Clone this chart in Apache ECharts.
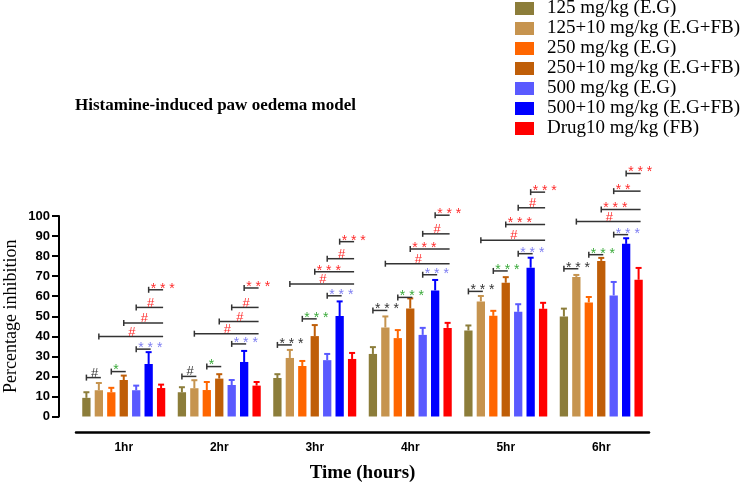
<!DOCTYPE html>
<html>
<head>
<meta charset="utf-8">
<script src="https://cdn.jsdelivr.net/npm/echarts@6/dist/echarts.min.js"></script>
<style>
html,body{margin:0;padding:0;background:#fff;}
#chart{width:749px;height:484px;}
</style>
</head>
<body>
<div id="chart"></div>
<script>
// ---------- DATA ----------
const categories = ['1hr', '2hr', '3hr', '4hr', '5hr', '6hr'];
const seriesNames = [
  '125 mg/kg (E.G)',
  '125+10 mg/kg (E.G+FB)',
  '250 mg/kg (E.G)',
  '250+10 mg/kg (E.G+FB)',
  '500 mg/kg (E.G)',
  '500+10 mg/kg (E.G+FB)',
  'Drug10 mg/kg (FB)'
];
const mean125 = [9.3, 12.1, 19.2, 31.2, 42.9, 49.9];
const err125 = [2.8, 2.5, 1.9, 3.4, 2.5, 3.9];
const mean125FB = [13.1, 14.1, 29.2, 44.4, 57.4, 69.6];
const err125FB = [3.6, 4.0, 4.0, 5.5, 2.7, 1.0];
const mean250 = [12.1, 13.2, 25.2, 39.1, 50.2, 56.9];
const err250 = [2.2, 4.0, 2.5, 4.0, 2.5, 2.7];
const mean250FB = [18.2, 18.9, 40.1, 53.9, 66.7, 77.6];
const err250FB = [2.2, 2.2, 5.5, 5.0, 2.8, 1.5];
const mean500 = [13.1, 15.7, 28.1, 40.7, 52.2, 60.4];
const err500 = [2.3, 2.5, 3.1, 3.5, 3.8, 6.7];
const mean500FB = [26.2, 27.2, 50.1, 62.9, 74.2, 86.1];
const err500FB = [5.9, 5.5, 7.3, 5.2, 5.0, 2.8];
const meanDrug = [14.2, 15.4, 28.7, 44.2, 53.7, 68.2];
const errDrug = [1.7, 1.8, 3.0, 2.5, 3.0, 5.9];

// significance brackets: which bars are joined, bracket height (per time point), label
const bracketPairs = [[0, 1], [2, 3], [4, 5], [1, 6], [3, 6], [4, 6], [5, 6]];
const bracketHeights = [
  [19.4, 22.4, 33.6, 39.9, 46.6, 54.4, 63.2],
  [20.0, 24.9, 36.2, 41.3, 47.4, 54.4, 64.1],
  [35.7, 48.7, 60.2, 66.1, 72.2, 78.7, 87.2],
  [52.9, 59.4, 70.7, 76.2, 83.6, 91.1, 100.4],
  [62.4, 72.6, 81.2, 87.9, 95.7, 104.1, 111.9],
  [73.7, 80.7, 90.7, 97.2, 103.2, 112.4, 121.2]
];
const bracketLabels = [
  ['#', '*', '***', '#', '#', '#', '***'],
  ['#', '*', '***', '#', '#', '#', '***'],
  ['***', '***', '***', '#', '***', '#', '***'],
  ['***', '***', '***', '#', '***', '#', '***'],
  ['***', '***', '***', '#', '***', '#', '***'],
  ['***', '***', '***', '#', '***', '**', '***']
];

// ---------- STYLE ----------
const means = [mean125, mean125FB, mean250, mean250FB, mean500, mean500FB, meanDrug];
const errs = [err125, err125FB, err250, err250FB, err500, err500FB, errDrug];
const colors = ['#8c7d3a', '#c6944f', '#ff6600', '#bf5e08', '#5a5aff', '#0000ff', '#ff0000'];
const labelColors = ['#333333', '#3aaa3a', '#7d7df2', '#ff2a2a', '#ff2a2a', '#ff2a2a', '#ff2a2a'];
const BAR_W = 8.3;
const GAP = 0.5;
const PITCH = BAR_W * (1 + GAP);
const SERIF = 'Liberation Serif';
const SANS = 'Liberation Sans';

const barSeries = seriesNames.map((name, i) => ({
  name: name,
  type: 'bar',
  data: means[i],
  barWidth: BAR_W,
  barGap: (GAP * 100) + '%',
  itemStyle: { color: colors[i] },
  z: 2
}));

const errData = [];
means.forEach((arr, s) => arr.forEach((v, g) => errData.push([g, s, v, errs[s][g]])));

const errSeries = {
  type: 'custom',
  name: 'err',
  data: errData,
  encode: { x: 0, y: 2 },
  clip: false,
  z: 3,
  renderItem: function (params, api) {
    const g = api.value(0), s = api.value(1), v = api.value(2), e = api.value(3);
    const base = api.coord([g, v]);
    const top = api.coord([g, v + e]);
    const x = base[0] + (s - 3) * PITCH;
    const c = colors[s];
    return {
      type: 'group',
      children: [
        { type: 'line', shape: { x1: x, y1: base[1], x2: x, y2: top[1] }, style: { stroke: c, lineWidth: 2 } },
        { type: 'line', shape: { x1: x - 3, y1: top[1], x2: x + 3, y2: top[1] }, style: { stroke: c, lineWidth: 2 } }
      ]
    };
  }
};

const brData = [];
bracketHeights.forEach((row, g) => row.forEach((h, k) => brData.push([g, k, h])));

const bracketSeries = {
  type: 'custom',
  name: 'brackets',
  data: brData,
  encode: { x: 0, y: 2 },
  clip: false,
  z: 4,
  renderItem: function (params, api) {
    const g = api.value(0), k = api.value(1), h = api.value(2);
    const p = api.coord([g, h]);
    const pair = bracketPairs[k];
    const x1 = p[0] + (pair[0] - 3) * PITCH;
    const x2 = p[0] + (pair[1] - 3) * PITCH + 2;
    const y = p[1];
    const lab = bracketLabels[g][k];
    const isStar = lab.indexOf('*') >= 0;
    const txt = isStar ? lab.split('').join(' ') : lab;
    const textEl = isStar
      ? { type: 'text', style: { text: txt, x: x1 + 2, y: y - 1, align: 'left', verticalAlign: 'middle', fill: labelColors[k], font: '14px ' + SANS } }
      : { type: 'text', style: { text: txt, x: (x1 + x2) / 2 + 1, y: y + 2, align: 'center', verticalAlign: 'bottom', fill: labelColors[k], font: '13px ' + SANS } };
    return {
      type: 'group',
      children: [
        { type: 'line', shape: { x1: x1, y1: y, x2: x2, y2: y }, style: { stroke: '#333', lineWidth: 1.5 } },
        { type: 'line', shape: { x1: x1, y1: y - 3, x2: x1, y2: y + 3 }, style: { stroke: '#333', lineWidth: 1.5 } },
        textEl
      ]
    };
  }
};

const chart = echarts.init(document.getElementById('chart'), null, { renderer: 'canvas' });
chart.setOption({
  animation: false,
  backgroundColor: '#fff',
  title: {
    text: 'Histamine-induced paw oedema model',
    left: 75,
    top: 97,
    padding: 0,
    textStyle: { fontFamily: SERIF, fontWeight: 'bold', fontSize: 17, color: '#000' }
  },
  legend: {
    data: seriesNames,
    orient: 'vertical',
    left: 515,
    top: -1,
    padding: 0,
    itemWidth: 19,
    itemHeight: 13,
    itemGap: 1,
    icon: 'rect',
    selectedMode: false,
    textStyle: { fontFamily: SERIF, fontSize: 19, color: '#000', padding: [0, 0, 0, 8], lineHeight: 19 }
  },
  grid: { left: 76, right: 100, top: 216, bottom: 67.5, containLabel: false, outerBoundsMode: 'none' },
  xAxis: {
    type: 'category',
    data: categories,
    offset: 16,
    axisLine: { onZero: false, lineStyle: { color: '#000', width: 2.5 } },
    axisTick: { alignWithLabel: true, length: 5, lineStyle: { color: '#000', width: 2 } },
    axisLabel: { fontFamily: SANS, fontWeight: 'bold', fontSize: 12, color: '#000', margin: 9 },
    name: 'Time (hours)',
    nameLocation: 'middle',
    nameGap: 31,
    nameMoveOverlap: false,
    nameTextStyle: { fontFamily: SERIF, fontWeight: 'bold', fontSize: 19, color: '#000' }
  },
  yAxis: {
    type: 'value',
    min: 0,
    max: 100,
    interval: 10,
    offset: 17,
    axisLine: { show: true, lineStyle: { color: '#000', width: 2 } },
    axisTick: { show: true, length: 7, lineStyle: { color: '#000', width: 2 } },
    axisLabel: { fontFamily: SANS, fontWeight: 'bold', fontSize: 13, color: '#000', margin: 9 },
    splitLine: { show: false },
    name: 'Percentage inhibition',
    nameLocation: 'middle',
    nameRotate: 90,
    nameGap: 39,
    nameMoveOverlap: false,
    nameTextStyle: { fontFamily: SERIF, fontSize: 18, color: '#000' }
  },
  series: barSeries.concat([errSeries, bracketSeries])
});
</script>
</body>
</html>
